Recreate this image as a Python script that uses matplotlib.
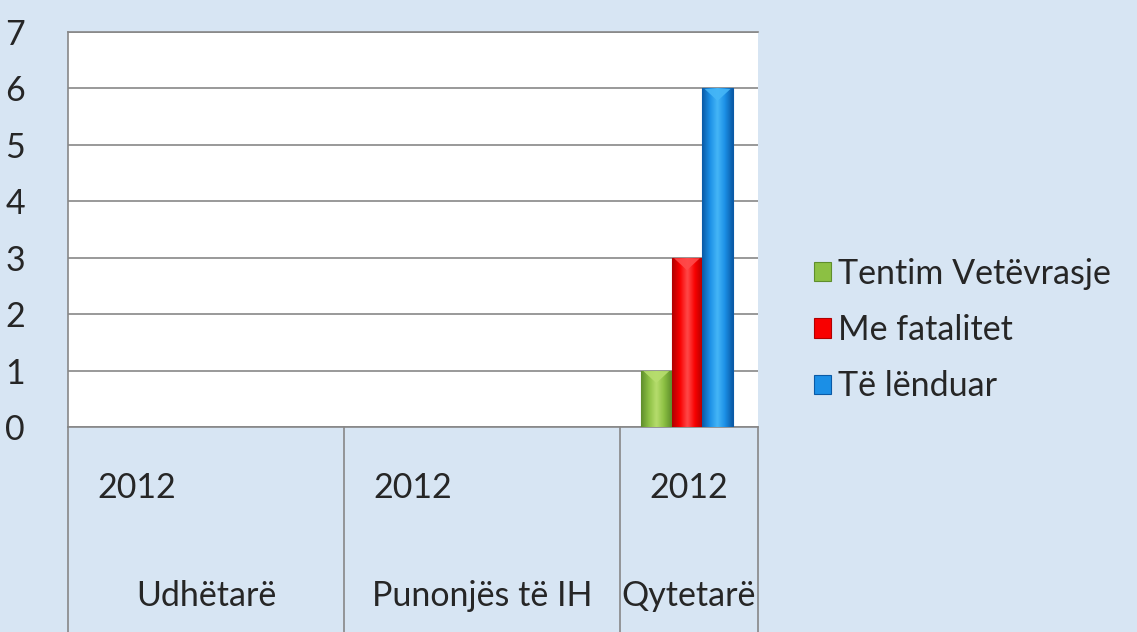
import numpy as np
import matplotlib
matplotlib.use("Agg")
import matplotlib.pyplot as plt
from matplotlib.patches import Patch, Polygon
from matplotlib.colors import LinearSegmentedColormap
import matplotlib.transforms as mtransforms

# ---- data ----
inner_labels = ["2012", "", "2012", "", "2012"]
outer_labels = ["Udhëtarë", "Punonjës të IH", "Qytetarë"]
outer_spans = [2, 2, 1]
series_names = ["Tentim Vetëvrasje", "Me fatalitet", "Të lënduar"]
tentim = [0, 0, 0, 0, 1]
fatalitet = [0, 0, 0, 0, 3]
lenduar = [0, 0, 0, 0, 6]
y_ticks = [0, 1, 2, 3, 4, 5, 6, 7]

# ---- style ----
FONT = ["Lato", "DejaVu Sans"]
plt.rcParams['font.family'] = FONT
TXT = "#262626"
BG = "#d7e5f3"
FS = 24.5
colors = {
    "base": ["#8cc043", "#f80000", "#1b8fe6"],
    "light": ["#b7dd6e", "#ff4a4a", "#45b6f7"],
    "dark": ["#5f8e2c", "#b00000", "#0a5aa6"],
}

fig = plt.figure(figsize=(11.37, 6.32), dpi=100, facecolor=BG)
ax = fig.add_axes([68/1137, 1-427/632, 690/1137, 395/632])
ax.set_facecolor("white")

n = len(inner_labels)
x = np.arange(n)
bw = 0.222
series = [tentim, fatalitet, lenduar]
offsets = [-bw, 0, bw]

for i, vals in enumerate(series):
    bars = ax.bar(x + offsets[i] - 0.015, vals, width=bw, color=colors["base"][i],
                  edgecolor=colors["dark"][i], linewidth=0.8, zorder=3)
    cmap = LinearSegmentedColormap.from_list(
        "g%d" % i, [colors["dark"][i], colors["base"][i], colors["light"][i],
                    colors["base"][i], colors["dark"][i]])
    for b, v in zip(bars, vals):
        if v <= 0:
            b.set_visible(False)
            continue
        x0, w, h = b.get_x(), b.get_width(), b.get_height()
        grad = np.linspace(0, 1, 64).reshape(1, -1)
        im = ax.imshow(grad, cmap=cmap, aspect="auto",
                       extent=[x0, x0 + w, 0, h], zorder=3.5,
                       interpolation="bicubic")
        im.set_clip_path(b)
        tri = Polygon([[x0 + w*0.08, h - 0.01], [x0 + w*0.92, h - 0.01],
                       [x0 + w/2, h - 0.22]], closed=True,
                      facecolor=colors["light"][i], edgecolor="none",
                      alpha=0.9, zorder=4)
        ax.add_patch(tri)

ax.set_xlim(-0.5, n - 0.5)
ax.set_ylim(0, 7)
ax.set_yticks(y_ticks)
ax.set_yticklabels([str(t) for t in y_ticks], fontsize=FS, color=TXT)
ax.tick_params(axis="y", length=0, pad=38)
for lbl in ax.get_yticklabels():
    lbl.set_horizontalalignment("center")
ax.set_xticks([])
ax.grid(axis="y", color="#878787", linewidth=1.2, zorder=0)
ax.set_axisbelow(True)
ax.spines["right"].set_visible(False)
for s in ["top", "left", "bottom"]:
    ax.spines[s].set_color("#878787")
    ax.spines[s].set_linewidth(1.2)

# ---- multi-level category table ----
trans = mtransforms.blended_transform_factory(ax.transData, fig.transFigure)
y_top = 1 - 427/632
edges = np.concatenate([[0], np.cumsum(outer_spans)]) - 0.5
for e in edges:
    ax.plot([e, e], [y_top, 0], transform=trans, color="#878787",
            linewidth=1.2, clip_on=False)
for xi, lab in zip(x, inner_labels):
    if lab:
        ax.text(xi, 1 - 498/632, lab, transform=trans, ha="center",
                va="baseline", fontsize=FS, color=TXT)
for k, lab in enumerate(outer_labels):
    c = (edges[k] + edges[k+1]) / 2
    ax.text(c, 1 - 606/632, lab, transform=trans, ha="center",
            va="baseline", fontsize=FS, color=TXT)

# ---- legend ----
handles = [Patch(facecolor=colors["base"][i], edgecolor=colors["dark"][i],
                 linewidth=0.8) for i in range(3)]
leg = fig.legend(handles, series_names, loc="center left",
                 bbox_to_anchor=(814/1137, 1 - 330/632), frameon=False,
                 fontsize=FS, handlelength=0.5, handleheight=0.5,
                 handletextpad=0.2, labelspacing=0.72, borderaxespad=0,
                 borderpad=0)
for t in leg.get_texts():
    t.set_color(TXT)

fig.savefig("out.png", dpi=100, facecolor=BG)
